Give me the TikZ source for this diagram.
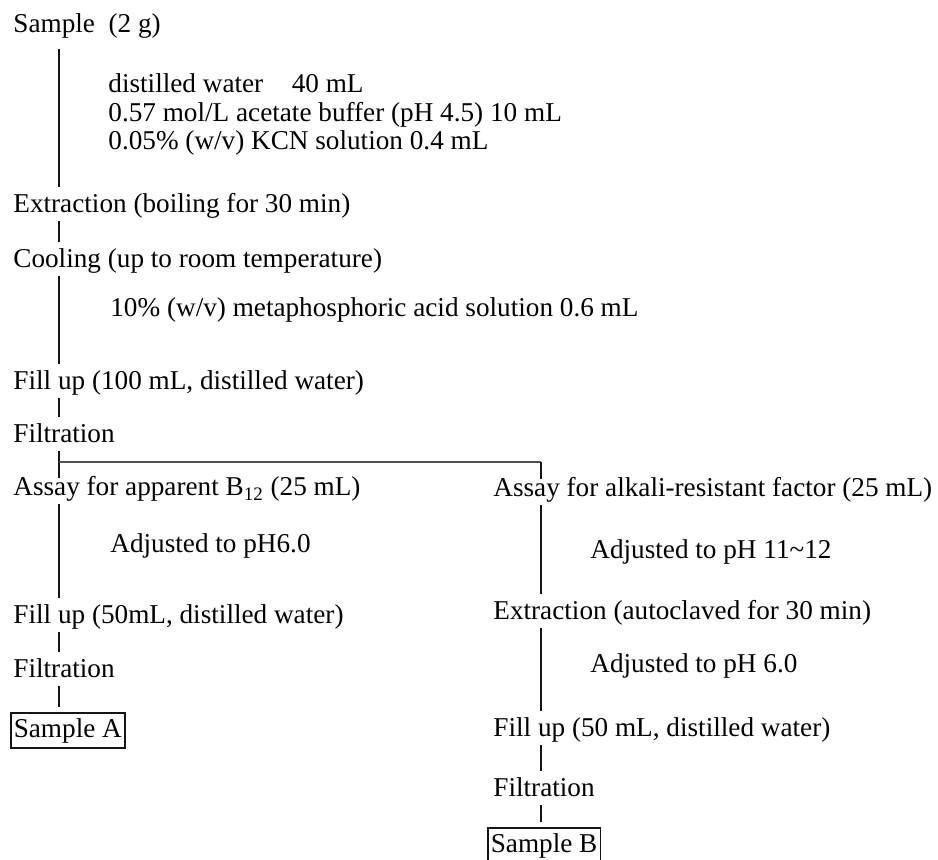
\documentclass[tikz,border=0pt]{standalone}
\usepackage{fontspec}
\setmainfont{Liberation Serif}
\usepackage{tikz}
\usetikzlibrary{positioning,calc}
\definecolor{inkblack}{HTML}{141414}
\definecolor{forkgray}{HTML}{505050}

\begin{document}
\begin{tikzpicture}[x=0.5pt,y=-0.5pt]
\tikzstyle{stage}=[anchor=base west,inner xsep=0pt,inner ysep=4pt,text height=9pt,text depth=0pt,font=\fontsize{13.6}{14.5}\selectfont]
\tikzstyle{note}=[stage]
\tikzstyle{result}=[stage,draw=inkblack,line width=0.8pt,inner xsep=1.5pt,inner ysep=3.5pt,text depth=1.5pt]
\tikzstyle{link}=[draw=inkblack,line width=1.2pt]
\tikzstyle{forkline}=[draw=forkgray,line width=0.9pt]
\useasboundingbox (0,0) rectangle (938,860);
% main trunk
\node[stage] (sample) at (13,33) {Sample\ \ (2 g)};
\node[note] (water) at (108,93) {distilled water\hspace{0.8em} 40 mL};
\node[note] (buffer) at (108,122) {0.57 mol/L acetate buffer (pH 4.5) 10 mL};
\node[note] (kcn) at (108,150) {0.05\% (w/v) KCN solution 0.4 mL};
\node[stage] (boil) at (13,213) {Extraction (boiling for 30 min)};
\node[stage] (cool) at (13,268) {Cooling (up to room temperature)};
\node[note] (acid) at (110,317) {10\% (w/v) metaphosphoric acid solution 0.6 mL};
\node[stage] (fill) at (13,390) {Fill up (100 mL, distilled water)};
\node[stage] (filt) at (13,443) {Filtration};
% left branch
\node[stage] (assayA) at (13,496) {Assay for apparent B\textsubscript{12} (25 mL)};
\node[note] (phA) at (110,553) {Adjusted to pH6.0};
\node[stage] (fillA) at (13,624) {Fill up (50mL, distilled water)};
\node[stage] (filtA) at (13,678) {Filtration};
\node[result] (sampleA) at (10,738) {Sample A};
% right branch
\node[stage] (assayB) at (493,497) {Assay for alkali-resistant factor (25 mL)};
\node[note] (phB1) at (590,559) {Adjusted to pH 11\textasciitilde12};
\node[stage] (autoc) at (493,620) {Extraction (autoclaved for 30 min)};
\node[note] (phB2) at (590,673) {Adjusted to pH 6.0};
\node[stage] (fillB) at (493,737) {Fill up (50 mL, distilled water)};
\node[stage] (filtB) at (493,797) {Filtration};
\node[result] (sampleB) at (487,853) {Sample B};
\coordinate (spineL) at (59,0);
\coordinate (spineR) at (541,0);
\coordinate (fork) at (59,462);
\draw[link,shorten <=4pt] (sample.south -| spineL)--(boil.north -| spineL);
\draw[link] (boil.south -| spineL)--(cool.north -| spineL);
\draw[link] (cool.south -| spineL)--(fill.north -| spineL);
\draw[link] (fill.south -| spineL)--(filt.north -| spineL);
\draw[link,shorten >=-4pt] (filt.south -| spineL)--(assayA.north -| spineL);
\draw[forkline] (fork)--(fork -| spineR);
\draw[link,shorten >=-4pt] (fork -| spineR)--(assayB.north -| spineR);
\draw[link] (assayA.south -| spineL)--(fillA.north -| spineL);
\draw[link] (fillA.south -| spineL)--(filtA.north -| spineL);
\draw[link,shorten >=2.5pt] (filtA.south -| spineL)--(sampleA.north -| spineL);
\draw[link] (assayB.south -| spineR)--(autoc.north -| spineR);
\draw[link] (autoc.south -| spineR)--(fillB.north -| spineR);
\draw[link] (fillB.south -| spineR)--(filtB.north -| spineR);
\draw[link,shorten >=2.5pt] (filtB.south -| spineR)--(sampleB.north -| spineR);
\end{tikzpicture}
\end{document}
